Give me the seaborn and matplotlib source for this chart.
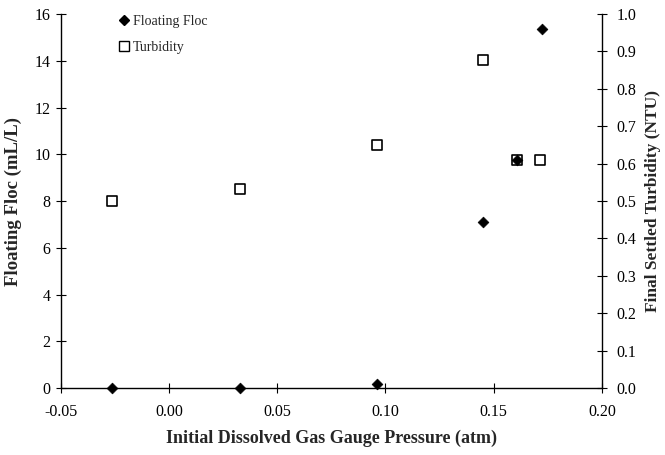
import matplotlib
matplotlib.use("Agg")
import matplotlib.pyplot as plt
from matplotlib.lines import Line2D
from matplotlib.ticker import FormatStrFormatter
import seaborn as sns
import pandas as pd

# Floating floc volume vs. initial dissolved gas gauge pressure
floc_pressure = [-0.0265, 0.0326, 0.0962, 0.1453, 0.1606, 0.1722]
floc_ml_per_l = [0.0, 0.0, 0.16, 7.11, 9.77, 15.37]

# Final settled turbidity vs. initial dissolved gas gauge pressure
turb_pressure = [-0.0265, 0.0328, 0.0963, 0.1453, 0.1606, 0.1716]
turb_ntu = [0.50, 0.531, 0.651, 0.876, 0.611, 0.611]

x_ticks = [-0.05, 0.00, 0.05, 0.10, 0.15, 0.20]
left_ticks = list(range(0, 17, 2))
right_ticks = [i / 10 for i in range(0, 11)]

floc_df = pd.DataFrame({"pressure": floc_pressure, "floc": floc_ml_per_l})
turb_df = pd.DataFrame({"pressure": turb_pressure, "turbidity": turb_ntu})

sns.set_style("ticks")
plt.rcParams["font.family"] = ["Liberation Serif", "DejaVu Serif"]
plt.rcParams["axes.unicode_minus"] = False
plt.rcParams["axes.edgecolor"] = "black"
plt.rcParams["xtick.color"] = "black"
plt.rcParams["ytick.color"] = "black"

fig = plt.figure(figsize=(6.65, 4.55), dpi=100)
ax = fig.add_axes([0.0917, 0.1473, 0.8133, 0.8217])
ax2 = ax.twinx()

sns.scatterplot(data=turb_df, x="pressure", y="turbidity", ax=ax2,
                marker="s", s=62, facecolor="white", edgecolor="black",
                linewidth=1.2, zorder=3, legend=False)
sns.scatterplot(data=floc_df, x="pressure", y="floc", ax=ax,
                marker="D", s=30, color="black", edgecolor="black",
                linewidth=0.5, zorder=4, legend=False, clip_on=False)

# Floc axis above the turbidity axis so the diamonds sit on top
ax.set_zorder(ax2.get_zorder() + 1)
ax.patch.set_visible(False)

ax.set_xlim(-0.05, 0.20)
ax.set_ylim(0, 16)
ax2.set_ylim(0, 1.0)
ax.set_xticks(x_ticks)
ax.set_yticks(left_ticks)
ax2.set_yticks(right_ticks)
ax.xaxis.set_major_formatter(FormatStrFormatter("%.2f"))
ax2.yaxis.set_major_formatter(FormatStrFormatter("%.1f"))

for a in (ax, ax2):
    a.spines["top"].set_visible(False)
    for sp in a.spines.values():
        sp.set_linewidth(1.0)
        sp.set_color("black")
ax.spines["right"].set_visible(False)
ax2.spines["left"].set_visible(False)
ax2.spines["bottom"].set_visible(False)

ax.tick_params(axis="both", direction="inout", length=7, width=0.8,
               labelsize=11.5, pad=4)
ax2.tick_params(axis="y", direction="inout", length=7, width=0.8,
                labelsize=11.5, pad=7)
ax.tick_params(axis="x", pad=8)

ax.set_xlabel("Initial Dissolved Gas Gauge Pressure (atm)",
              fontsize=13, fontweight="bold", labelpad=7)
ax.set_ylabel("Floating Floc (mL/L)", fontsize=13.5, fontweight="bold",
              labelpad=9)
ax2.set_ylabel("Final Settled Turbidity (NTU)", fontsize=12.5,
               fontweight="bold", labelpad=6)

handles = [
    Line2D([], [], linestyle="none", marker="D", markersize=5.5,
           color="black", label="Floating Floc"),
    Line2D([], [], linestyle="none", marker="s", markersize=7.5,
           markerfacecolor="white", markeredgecolor="black",
           markeredgewidth=1.0, label="Turbidity"),
]
ax.legend(handles=handles, loc="upper left", bbox_to_anchor=(0.085, 1.032),
          frameon=False, handlelength=0.6, handletextpad=0.35,
          labelspacing=0.95, fontsize=10)

fig.savefig("out.png", dpi=100)
